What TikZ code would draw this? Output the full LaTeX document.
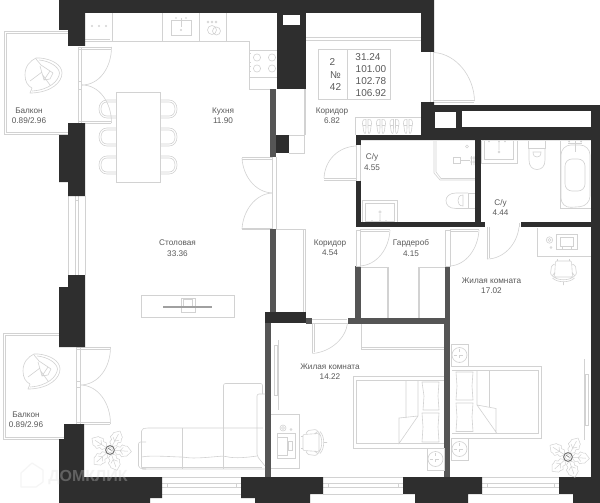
\documentclass[tikz,border=0pt]{standalone}
\usepackage{fontspec}
\setmainfont{Liberation Sans}
\definecolor{wallc}{HTML}{2E2E2E}
\definecolor{wallg}{HTML}{555555}
\definecolor{pline}{HTML}{D2D2D2}
\definecolor{txtc}{HTML}{5A5A5A}
\tikzset{
  wl/.style={fill=wallc,draw=none},
  wg/.style={fill=wallg,draw=none},
  hole/.style={fill=white,draw=none},
  fine/.style={draw=pline,line width=0.6pt},
  lab/.style={text=txtc,font=\fontsize{8.2}{9.8}\selectfont,align=center,inner sep=0pt},
  info/.style={text=txtc,font=\fontsize{10}{12}\selectfont,inner sep=0pt},
  armchairpic/.pic={
    \draw[fine,line join=round]
      (-4,-16) .. controls (8,-15) and (18,-9) .. (18,-1) .. controls (18,8) and (8,18) .. (-12,19)
      (-5,-14) .. controls (6,-13) and (15,-7) .. (15.5,-1) .. controls (15,7) and (5,16) .. (-12,17)
      (-4,-16) -- (-8,-16) .. controls (-14,-13) and (-19,-8) .. (-19,1) .. controls (-19,8) and (-16,12) .. (-12,14) -- (-14,19) -- (-12,19)
      (-8,-15) -- (-3,-9) -- (9,-1) -- (6,5) -- (0,6) -- (-4,-8)
      (-14,7) -- (-2,-2) (-2,0) -- (6,11) (0,6) -- (6,-3);
  },
  plantpic/.pic={
    \foreach \a in {62,-4,-71,-138,147}{
      \begin{scope}[rotate=\a]
        \draw[fine,line width=0.5pt,line join=round]
          (4,0) -- (7,-4) -- (10,-3.5) -- (12,-6) -- (15,-5) -- (17,-5) -- (21.5,0) -- (17,5) -- (15,5) -- (12,6) -- (10,3.5) -- (7,4) -- cycle
          (4,0) -- (18,0) (10,0) -- (13,-3.5) (10,0) -- (13,3.5);
      \end{scope}}
    \fill[white] (0,0) circle (5.2);
    \draw[draw=wallg!80!white,line width=1pt] (0,0) circle (4.4);
    \draw[draw=pline,line width=0.5pt] (0,0) circle (2.6);
    \draw[draw=wallg!80!white,line width=0.6pt] (-2,-2) -- (1.5,0.5);
  },
  dinechairpic/.pic={
    \draw[fine]
      (0,-9) -- (-9,-9) .. controls (-14,-9) and (-17,-5) .. (-17,0) .. controls (-17,5) and (-14,9) .. (-9,9) -- (0,9)
      (0,-7) -- (-9,-7) .. controls (-13,-7) and (-15,-4) .. (-15,0) .. controls (-15,4) and (-13,7) .. (-9,7) -- (0,7);
  },
  deskchairpic/.pic={
    \draw[fine,rounded corners=1pt]
      (-8,-9) -- (8,-9) -- (9,7) -- (-9,7) -- cycle
      (-6,-11) -- (-6,-9) (6,-11) -- (6,-9)
      (-9,-6) -- (-12,-4) -- (-13,4) -- (-11,6) -- (-9,3)
      (9,-6) -- (12,-4) -- (13,4) -- (11,6) -- (9,3)
      (-11,6) .. controls (-6,11) and (6,11) .. (11,6)
      (-11,8) .. controls (-6,13) and (6,13) .. (11,8)
      (0,12) -- (0,15);
  },
  nightstandpic/.pic={
    \draw[fine] (-8.5,-11) rectangle (8.5,11);
    \draw[fine] (0,0) circle (7.5);
    \draw[fine,dashed,line width=0.4pt] (-6,0) -- (6,0) (0,-6) -- (0,6);
  },
  shoepic/.pic={
    \draw[fine]
      (-1,-7) .. controls (-5,-8) and (-5,-3) .. (-4,0) .. controls (-4,3) and (-3,7) .. (-2,7) .. controls (-1,7) and (-1,3) .. (-1,0) -- cycle
      (1,-7) .. controls (5,-8) and (5,-3) .. (4,0) .. controls (4,3) and (3,7) .. (2,7) .. controls (1,7) and (1,3) .. (1,0) -- cycle
      (-4,-1) -- (-1,-1) (1,-1) -- (4,-1);
  }
}
\begin{document}
\begin{tikzpicture}[x=1pt,y=-1pt]
\useasboundingbox (0,0) rectangle (600,503);
\fill[white] (0,0) rectangle (600,503);

% balconies
\draw[fine] (68,31) -- (4,31) -- (4,134) -- (68,134);
\draw[fine] (68,33) -- (6,33) -- (6,132) -- (68,132);
\draw[fine] (59,333.5) -- (3,333.5) -- (3,439) -- (64,439);
\draw[fine] (59,335.5) -- (5,335.5) -- (5,437) -- (64,437);

% windows
\draw[fine] (68.5,196) -- (68.5,275) (75,196) -- (75,275) (78,196) -- (78,275) (85,196) -- (85,275) (75,200) -- (78,200);
\foreach \xa/\xb in {162/241,323/403,482/559}{
  \draw[fine] (\xa,477.5) -- (\xb,477.5) (\xa,483) -- (\xb,483) (\xa,487) -- (\xb,487) (\xa,494) -- (\xb,494);
  \draw[fine] (\xa+5,483) -- (\xa+5,487) (\xb-5,483) -- (\xb-5,487);
}

% balcony doors
\draw[fine] (78,47) -- (78,123) (81.5,47) -- (81.5,123) (78,47) -- (111,47) (78,49) -- (111,49) (78,123) -- (111,123) (78,121.5) -- (111,121.5);
\draw[fine] (111.5,47) .. controls (111.5,68) and (99,85) .. (82,85);
\draw[fine] (111.5,123) .. controls (111.5,102) and (99,85) .. (82,85);
\draw[fine] (78,81) -- (82,81) (78,89) -- (82,89);
\draw[fine] (76,347) -- (76,424) (80,347) -- (80,424) (76,347) -- (110,347) (76,349) -- (110,349) (76,424) -- (110,424) (76,422.5) -- (110,422.5);
\draw[fine] (110.5,347) .. controls (110.5,368) and (98,385) .. (80,385);
\draw[fine] (110.5,424) .. controls (110.5,403) and (98,385) .. (80,385);
\draw[fine] (76,381) -- (80,381) (76,387) -- (80,387);

% kitchen
\draw[fine] (85,41) -- (249,41) -- (249,89) -- (270,89);
\draw[fine] (85,39) -- (110,39);
\draw[fine] (112,13) -- (112,41) (162,13) -- (162,41) (199,13) -- (199,41) (226,13) -- (226,41);
\foreach \x in {92,99,106} \fill[pline] (\x,26) circle (1.2);
\draw[fine] (171,20) rectangle (191,35.5);
\draw[fine,line width=1pt] (181,18) -- (181,27);
\fill[pline] (181,30) circle (1.1) (176,18) circle (0.8) (186,18) circle (0.8);
\draw[fine] (212,30) circle (4.5) (216.5,31) circle (4);
\foreach \x in {208,212,216} \draw[fine,line width=0.4pt] (\x,22) circle (1);
\draw[fine] (249,50) -- (277,50) (249,77) -- (277,77);
\foreach \x/\y in {257/57.5,272/57.5,257/68.5,272/68.5} \draw[fine] (\x,\y) circle (3.6);
\draw[fine] (249,53) -- (251,53) (249,62) -- (251,62) (249,66) -- (251,66) (249,71) -- (251,71);

% dining table and chairs
\foreach \y in {109,137,165}{
  \pic at (116,\y) {dinechairpic};
  \pic[xscale=-1] at (160,\y) {dinechairpic};
}
\draw[fine,fill=white] (116,92) rectangle (160,182);

% door kitchen - corridor
\draw[fine] (272,157) -- (272,229) (276,157) -- (276,229);
\draw[fine] (242,157.5) -- (272,157.5) (242,229.5) -- (272,229.5) (242,159) -- (272,159) (242,228) -- (272,228);
\draw[fine] (242,158) .. controls (243,176) and (255,192) .. (272,193);
\draw[fine] (242,229) .. controls (243,211) and (255,194) .. (272,193);

% closets near corridor
\draw[fine] (304,89) -- (304,135) (305,89) -- (305,135);
\draw[fine] (289,135) -- (304,135) -- (304,153) -- (289,153);
\draw[fine] (276,229) -- (305,229) (303,229) -- (303,312) (305,229) -- (305,312);

% corridor top band
\draw[fine] (305.5,37) -- (421,37) (305.5,40) -- (421,40);

% info table
\draw[fine] (318,49.5) rectangle (390,99.5) (347.5,49.5) -- (347.5,99.5);

% entrance door
\draw[fine] (430,52) -- (430,102) (433.5,52) -- (433.5,102);
\draw[fine] (434,100) -- (474,100) (434,102) -- (474,102);
\draw[fine] (434,52.5) .. controls (456,54) and (474,76) .. (474.5,101);

% shoes
\draw[fine] (355.5,117) -- (421,117) (355.5,117) -- (355.5,135);
\foreach \x in {367,381,394.5,408} \pic at (\x,126.5) {shoepic};

% WC 1
\draw[fine] (434,141) -- (434,173) -- (440,180) -- (475,180) (436,141) -- (436,172) -- (441,178.5) -- (475,178.5);
\draw[fine] (453.5,157.5) rectangle (460,163) (460,160) -- (470,160);
\draw[fine] (467,146.5) circle (1.5) (471.5,156) -- (471.5,165) (474,156) -- (474,165) (470,158) -- (475,158) (470,162) -- (475,162);
\draw[fine] (468,193) rectangle (475,208.5);
\draw[fine] (468,193) -- (456,193) .. controls (449,193) and (446,197) .. (446,200.5) .. controls (446,205) and (449,208.5) .. (456,208.5) -- (468,208.5);
\draw[fine] (463,195) .. controls (459,195) and (458,198) .. (458,200.5) .. controls (458,203) and (459,206) .. (463,206) -- cycle;
\draw[fine] (362,200) rectangle (397,222) (365,203) rectangle (394,221);
\fill[pline] (372,221) circle (0.9) (380,221) circle (0.9) (386,221) circle (0.9);
\draw[fine] (380,212) circle (1.2) (380,214) -- (380,221);

% WC 2
\draw[fine] (481,141) -- (481,163) -- (517,163) -- (517,141) (484.5,141) -- (484.5,159) -- (513,159) -- (513,141);
\fill[pline] (489,141.5) circle (0.9) (499,141.5) circle (0.9) (505,141.5) circle (0.9);
\draw[fine] (499,152) circle (1) (499,141) -- (499,150);
\draw[fine] (528.5,141) -- (528.5,148.5) -- (545.5,148.5) -- (545.5,141);
\draw[fine] (529,148.5) -- (529,160) .. controls (529,166) and (532,169.5) .. (537,169.5) .. controls (542,169.5) and (545,166) .. (545,160) -- (545,148.5);
\draw[fine] (533,152) .. controls (533,156) and (535,157) .. (537,157) .. controls (539,157) and (541,156) .. (541,152) -- cycle;
\draw[fine] (560,141) -- (560,208.5) -- (591,208.5);
\draw[fine,rounded corners=10pt] (561,208) -- (561,145) -- (590,145) -- (590,206) -- cycle;
\draw[fine,rounded corners=7pt] (565,159) rectangle (585,191);
\draw[fine,line width=1pt] (575,141) -- (575,152);
\draw[fine] (568,143) -- (582,143);
\fill[pline] (569,141.5) circle (1) (581,141.5) circle (1);

% walls dark
\path[wl] (59,0) -- (434,0) -- (434,52) -- (421,52) -- (421,13) -- (85,13) -- (85,46) -- (68,46) -- (68,30) -- (59,30) -- cycle;
\path[wl] (277,13) rectangle (305.5,89);
\path[hole] (282.5,15) rectangle (299.5,25);
\path[wl] (68,123) -- (85,123) -- (85,196) -- (68,196) -- (68,182) -- (59,182) -- (59,135) -- (68,135) -- cycle;
\path[wl] (68,275) -- (85,275) -- (85,347) -- (59,347) -- (59,287) -- (68,287) -- cycle;
\path[wl] (64,424) -- (84,424) -- (84,477) -- (162,477) -- (162,498) -- (150,498) -- (150,503) -- (59,503) -- (59,439) -- (64,439) -- cycle;
\path[wl] (241,477) -- (323,477) -- (323,494) -- (310,494) -- (310,503) -- (255,503) -- (255,498) -- (241,498) -- cycle;
\path[wl] (403,477) -- (482,477) -- (482,494) -- (468,494) -- (468,503) -- (415,503) -- (415,494) -- (403,494) -- cycle;
\path[wl] (559,477) -- (591,477) -- (591,140) -- (600,140) -- (600,503) -- (573,503) -- (573,494) -- (559,494) -- cycle;
\path[wl] (421,102) -- (434,102) -- (434,105) -- (600,105) -- (600,140) -- (356,140) -- (356,135) -- (421,135) -- cycle;
\path[hole] (434.5,111.5) rectangle (456,128);
\path[hole] (462,111) rectangle (591,127);
\path[wl] (356,135) rectangle (361,145);
\path[wl] (356,181) rectangle (361,227);
\path[wl] (475,140) rectangle (481,226);
\path[wl] (356,222) rectangle (485,227);
\path[wl] (521,222) rectangle (591,227);
\path[wl] (276,135) rectangle (289,153);
\path[wl] (265,312) rectangle (305.5,323);

% walls gray
\path[wg] (270,89) rectangle (276,157);
\path[wg] (270,229) rectangle (276,312);
\path[wg] (265,323) rectangle (271,477);
\path[wg] (305.5,318) rectangle (312,323.5);
\path[wg] (347.5,318) rectangle (450,323.5);
\path[wg] (355,266) rectangle (360.5,318);
\path[wg] (445,266) rectangle (450,318);
\path[wg] (444,323) rectangle (450,477);

% WC1 door
\draw[fine] (356,145) -- (356,181) (360,145) -- (360,181);
\draw[fine] (324,178.5) -- (356,178.5) (324,180.5) -- (356,180.5);
\draw[fine] (324,178) .. controls (325,160) and (338,147) .. (356,146);

% WC2 door
\draw[fine] (487,227) -- (487,259) (489,227) -- (489,258);
\draw[fine] (487,259) .. controls (503,259) and (517,245) .. (519,227);
\draw[fine] (519,223) -- (519,227);

% wardrobe doors and wardrobes
\draw[fine] (356,230) rectangle (360.5,266);
\draw[fine] (360,229.5) -- (390,229.5) (360,231) -- (389,231);
\draw[fine] (390,230) .. controls (389,249) and (377,265) .. (360,266);
\draw[fine] (445,230) rectangle (450,266);
\draw[fine] (450,229.5) -- (479,229.5) (450,231) -- (478,231);
\draw[fine] (479,230) .. controls (478,249) and (466,265) .. (450,266);
\draw[fine] (360.5,267) -- (387.5,267) (387,267) -- (387,318) (388.5,267) -- (388.5,318);
\draw[fine] (445,267) -- (418,267) (418,267) -- (418,318) (419.5,267) -- (419.5,318);

% bedroom door and closet
\draw[fine] (312.5,323) -- (312.5,353) (314.5,323) -- (314.5,352);
\draw[fine] (312,319) -- (347,319) (312,323) -- (347,323);
\draw[fine] (312.5,353.5) .. controls (331,352) and (346,338) .. (347.5,323);
\draw[fine] (361,324) -- (361,349) -- (444,349) (361,347.5) -- (444,347.5);

% bed 1
\draw[fine] (443.5,376) -- (353.5,376) -- (353.5,448) -- (443.5,448);
\draw[fine] (443.5,380) -- (356.5,380) -- (356.5,443.5) -- (443.5,443.5);
\draw[fine,line join=round] (422,382) -- (439,382) -- (438,396) -- (439,410) -- (423,410) -- (424,396) -- cycle;
\draw[fine,line join=round] (422,413) -- (439,413) -- (438,427) -- (439,442) -- (422,442) -- (423,427) -- cycle;
\draw[fine] (406,380) -- (406,418) (418,380) -- (418,416) -- (399,443.5) -- (399,418) -- (418,416);
\pic at (435.5,459) {nightstandpic};

% bed 2
\draw[fine] (452,366) -- (541.5,366) -- (541.5,438.5) -- (452,438.5);
\draw[fine] (452,370.5) -- (538,370.5) -- (538,433.5) -- (452,433.5);
\draw[fine,line join=round] (456,372) -- (473,372) -- (472,386) -- (473,400) -- (456,400) -- (457,386) -- cycle;
\draw[fine,line join=round] (456,403) -- (473,403) -- (472,417) -- (473,431.5) -- (456,431.5) -- (457,417) -- cycle;
\draw[fine] (477,370.5) -- (477,405) (489.5,370.5) -- (489.5,407) (477,405) -- (496,408.5) -- (496,433.5) (477,405) -- (497,433.5);
\pic at (459.5,355) {nightstandpic};
\pic at (459.5,449) {nightstandpic};

% mirrors
\draw[fine] (584,359) -- (584,440);
\draw[fine] (585,374) rectangle (588,425);
\draw[fine] (278,340) -- (278,410);
\draw[fine] (274,345) rectangle (277,395);

% desk room 17.02
\draw[fine] (537,228) -- (537,256) -- (591,256);
\draw[fine] (556,234) rectangle (577,249) (560,237) rectangle (573,246) (562,246) rectangle (571,249);
\draw[fine] (549.5,240) circle (3.2) (549.5,240) circle (1.5) (551,247.5) circle (1);
\pic at (563.5,270) {deskchairpic};

% desk room 14.22
\draw[fine] (271,414.5) -- (299,414.5) -- (299,468) -- (271,468);
\draw[fine] (277,433) rectangle (295,458) (277,437) -- (287,437) -- (287,455) -- (277,455);
\draw[fine] (288,441) rectangle (292,450);
\draw[fine] (283,428) circle (3) (283,428) circle (1.5) (291,429.5) circle (1);
\pic[rotate=90] at (312,442.5) {deskchairpic};

% console and tv
\draw[fine] (141,295.5) rectangle (234,317.5);
\draw[fine] (181,298.5) rectangle (195,312) (183.5,299.5) rectangle (192,307);
\draw[wallg!40!pline,line width=1.3pt] (163,307) -- (212,307);

% sofa
\draw[fine,rounded corners=2pt] (146,442) -- (138.5,442) -- (138.5,468) -- (146,469);
\draw[fine,rounded corners=2pt] (146,469) -- (141.5,469) -- (141.5,429) -- (146,428) -- (263,428);
\draw[fine,rounded corners=2pt] (141.5,457) .. controls (150,455) and (175,457) .. (183,457) .. controls (195,459) and (210,457) .. (224,456) .. controls (235,459) and (250,457) .. (257,456) (142,469) -- (265,469);
\draw[fine] (142,467) -- (262,467) (182.5,428) -- (182.5,469) (223.5,428) -- (223.5,469);
\draw[fine,rounded corners=2pt] (223.5,428) -- (223.5,383.5) -- (262.5,383.5) -- (262.5,394);
\draw[fine,rounded corners=2pt] (265,394) -- (257,394) -- (257,456) -- (265,466);

% armchairs and plants
\pic at (44,74) {armchairpic};
\pic at (42,370) {armchairpic};
\pic at (110,450) {plantpic};
\pic at (568,457) {plantpic};

% labels
\node[lab] (b1) at (29,116) {Балкон\\[0.6pt]0.89/2.96};
\node[lab] (k1) at (223,116) {Кухня\\[0.6pt]11.90};
\node[lab] (c1) at (332,116) {Коридор\\[0.6pt]6.82};
\node[lab] (w1) at (372,162) {С/у\\[0.6pt]4.55};
\node[lab] (w2) at (500.5,207.5) {С/у\\[0.6pt]4.44};
\node[lab] (s1) at (177.5,248) {Столовая\\[0.6pt]33.36};
\node[lab] (c2) at (330,248) {Коридор\\[0.6pt]4.54};
\node[lab] (g1) at (411,248) {Гардероб\\[0.6pt]4.15};
\node[lab] (j1) at (491.5,285.5) {Жилая комната\\[0.6pt]17.02};
\node[lab] (j2) at (330,371.5) {Жилая комната\\[0.6pt]14.22};
\node[lab] (b2) at (26,420) {Балкон\\[0.6pt]0.89/2.96};
\node[info] (i1) at (332.5,62.5) {2};
\node[info] (i2) at (335.5,75) {№};
\node[info] (i3) at (335.5,87) {42};
\node[info] (i4) at (368,57) {31.24};
\node[info] (i5) at (371,69) {101.00};
\node[info] (i6) at (371,81) {102.78};
\node[info] (i7) at (371,93) {106.92};

% watermark
\begin{scope}[opacity=0.3]
  \draw[draw=gray!25,line width=1.2pt,line join=round] (21,473) -- (32,463) -- (43,470) -- (43,482) -- (36,487) -- (21,487) -- cycle;
  \node[inner sep=0pt,text=gray!30,font=\bfseries\fontsize{16}{16}\selectfont] (wm) at (88,477.5) {ДОМКЛИК};
\end{scope}
\end{tikzpicture}
\end{document}
